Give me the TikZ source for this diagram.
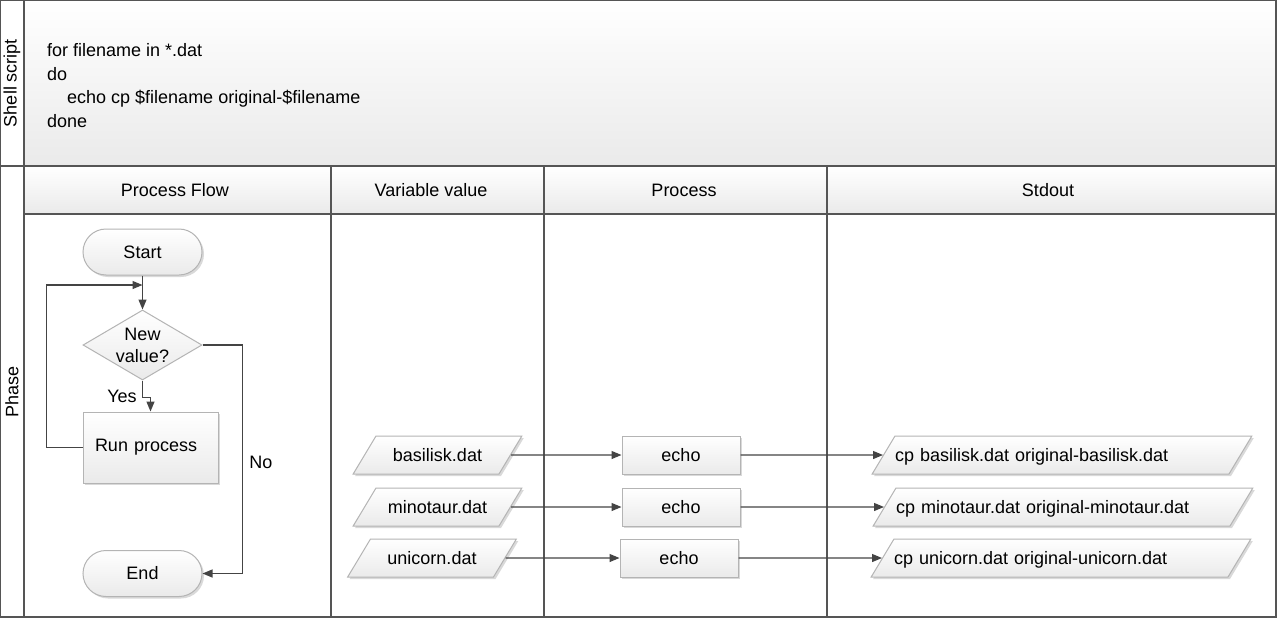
\documentclass[tikz,border=0pt]{standalone}
\usepackage{fontspec}
\setmainfont{Liberation Sans}
\usetikzlibrary{shapes.geometric, arrows.meta, positioning, shadows}
\definecolor{linegray}{HTML}{444444}
\definecolor{framegray}{HTML}{555555}
\definecolor{boxgray}{HTML}{B4B4B4}
\definecolor{fadegray}{HTML}{EAEAEA}
\def \poolRight{1276}
\def \poolBottom{617}
\def \labelCol{24}
\tikzset{
 every node/.style={font=\fontsize{18}{22}\selectfont, text=black},
 shaded/.style={top color=white, bottom color=fadegray, draw=boxgray, line width=1pt},
 shadowed/.style={drop shadow={shadow xshift=2pt, shadow yshift=-2pt, opacity=0.15, fill=black}},
 terminal/.style={shaded, shadowed, rectangle, rounded corners=23pt, minimum width=119pt, minimum height=46pt},
 decision/.style={shaded, diamond, aspect=1.7, minimum width=119pt, minimum height=70pt, inner sep=0pt, align=center},
 procbox/.style={shaded, shadowed, rectangle, minimum width=118pt, minimum height=38pt},
 databox/.style={shaded, shadowed, trapezium, trapezium left angle=59, trapezium right angle=121,
  inner xsep=0pt, text height=15pt, text depth=3pt, inner ysep=10pt},
 flow/.style={draw=linegray, line width=1.2pt, -{Triangle[length=10pt,width=8pt]}},
 lane/.style={draw=framegray, line width=1.2pt},
}

\begin{document}
\begin{tikzpicture}[x=1pt, y=-1pt]
\useasboundingbox (0,0) rectangle (1277,618);

\fill[white] (0,0) rectangle (\poolRight,\poolBottom);
\shade[top color=white, bottom color=fadegray] (\labelCol,0) rectangle (\poolRight,166);
\shade[top color=white, bottom color=fadegray] (\labelCol,166) rectangle (\poolRight,214);

\draw[lane] (0,166) -- (\poolRight,166);
\draw[lane] (\labelCol,0) -- (\labelCol,\poolBottom);
\draw[lane] (\labelCol,214) -- (\poolRight,214);
\draw[lane] (331,166) -- (331,\poolBottom);
\draw[lane] (544,166) -- (544,\poolBottom);
\draw[lane] (827,166) -- (827,\poolBottom);
\draw[framegray, line width=1.6pt] (0,0) rectangle (\poolRight,\poolBottom);

\node[rotate=90] (shelllabel) at (12,83) {Shell script};
\node[rotate=90] (phaselabel) at (12,392) {Phase};
\node[anchor=west, align=left, inner sep=0pt, font=\fontsize{18}{23.5}\selectfont] (script) at (47,85.5)
 {for filename in *.dat\\do\\\hspace*{20pt}echo cp \$filename original-\$filename\\done};

\node (hflow) at (175,190) {Process Flow};
\node (hvalue) at (431,190) {Variable value};
\node (hproc) at (684,190) {Process};
\node (hout) at (1048,190) {Stdout};

\node[terminal] (start) at (142.5,252) {Start};
\node[decision] (newval) at (142.5,345) {New\\value?};
\node[shaded, shadowed, rectangle, minimum height=71pt, text width=111pt, inner xsep=12pt, align=left] (runproc) at (150.5,447.5) {Run process};
\node[terminal] (end) at (142.5,573.5) {End};

\coordinate (loopin) at (142.5,285);
\draw[flow] (start) -- (newval);
\draw[flow] (runproc.west) -- ++(-36,0) |- (loopin);
\draw[flow] (newval.south) -- ++(0,17) -| (runproc.north);
\draw[flow] (newval.east) -- ++(40,0) |- (end.east);
\node (yes) at (122,396) {Yes};
\node (no) at (261,462) {No};

\node[databox, text width=123pt, align=center] (basilisk) at (437.5,455) {basilisk.dat};
\node[databox, text width=123pt, align=center] (minotaur) at (437.5,507) {minotaur.dat};
\node[databox, text width=123pt, align=center] (unicorn) at (432,558) {unicorn.dat};

\node[procbox] (echoA) at (681,455) {echo};
\node[procbox] (echoB) at (681,507) {echo};
\node[procbox] (echoC) at (679,558) {echo};

\node[databox, text width=334pt, align=left] (outA) at (1062,455) {cp basilisk.dat original-basilisk.dat};
\node[databox, text width=334pt, align=left] (outB) at (1063,507) {cp minotaur.dat original-minotaur.dat};
\node[databox, text width=334pt, align=left] (outC) at (1061,558) {cp unicorn.dat original-unicorn.dat};

\draw[flow] (basilisk.east) -- (echoA.west);
\draw[flow] (minotaur.east) -- (echoB.west);
\draw[flow] (unicorn.east) -- (echoC.west);
\draw[flow] (echoA.east) -- (outA.west);
\draw[flow] (echoB.east) -- (outB.west);
\draw[flow] (echoC.east) -- (outC.west);
\end{tikzpicture}
\end{document}
